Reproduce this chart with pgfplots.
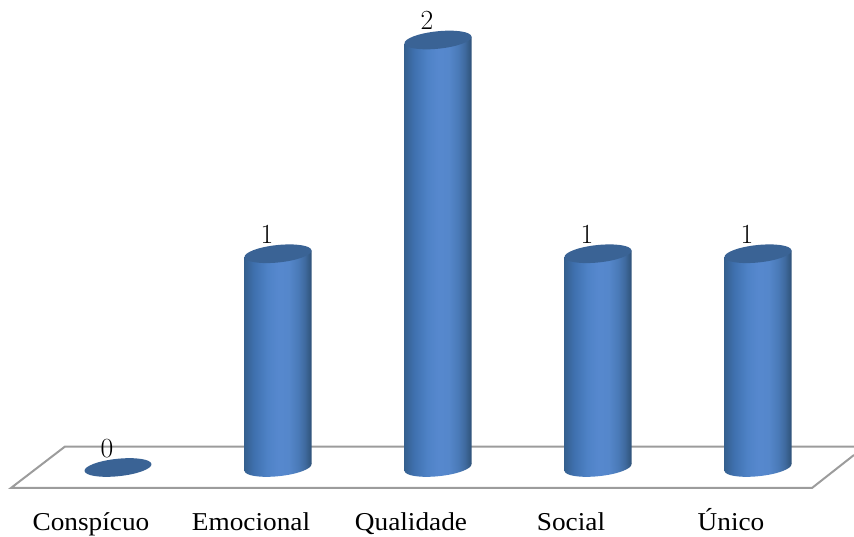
\documentclass[border=0pt]{standalone}
\usepackage{fontspec}
\setmainfont[FakeStretch=1.06]{Liberation Serif}
\usepackage{pgfplots}
\pgfplotsset{compat=1.18}

\definecolor{capblue}{HTML}{3A6395}
\definecolor{floorgray}{HTML}{9C9C9C}
\definecolor{shA}{HTML}{35608F}
\definecolor{shB}{HTML}{3F70AE}
\definecolor{shC}{HTML}{4E82C6}
\definecolor{shD}{HTML}{5688CE}
\definecolor{shE}{HTML}{5587CB}
\definecolor{shF}{HTML}{4A7AB8}
\definecolor{shG}{HTML}{3F6A9F}
\definecolor{shH}{HTML}{2F5278}

% Horizontal light falloff across a cylinder; the path maps onto 25bp..75bp
\pgfdeclarehorizontalshading{cyl}{100bp}{
  color(0bp)=(shA);
  color(25bp)=(shA);
  color(32bp)=(shB);
  color(42bp)=(shC);
  color(50bp)=(shD);
  color(58bp)=(shE);
  color(65bp)=(shF);
  color(70bp)=(shG);
  color(75bp)=(shH);
  color(100bp)=(shH)}

% Tilted ellipses for the end faces of the cylinders
\pgfdeclareplotmark{cylcap}{%
  \pgfpathellipse{\pgfpointorigin}{\pgfpoint{25.1pt}{2.6pt}}{\pgfpoint{-0.7pt}{6.5pt}}%
  \pgfsetfillcolor{capblue}\pgfusepathqfill}
\pgfdeclareplotmark{cylbase}{%
  \pgfpathellipse{\pgfpointorigin}{\pgfpoint{25.1pt}{2.6pt}}{\pgfpoint{-0.7pt}{6.5pt}}%
  \pgfshadepath{cyl}{0}\pgfusepath{discard}}

% body of a cylinder, sheared so that its ends follow the tilt of the faces
\pgfplotsset{cylbody/.style={ybar, bar width=50.25pt, bar shift=0pt, draw=none,
  shade, shading=cyl, /tikz/cm={1,0.1036,0,1,(0pt,{-0.1036*#1})}}}

\begin{document}
\begin{tikzpicture}
\path[use as bounding box] (0,0) rectangle (640.5pt,402pt);
\begin{axis}[
  scale only axis,
  width=640.5pt, height=402pt,
  xmin=-0.7375, xmax=4.6,
  ymin=-0.3205, ymax=2.1871,
  axis line style={draw=none},
  major tick length=0pt,
  ytick=\empty,
  xtick={0,1,2,3,4},
  xticklabels={Conspícuo,Emocional,Qualidade,Social,Único},
  xticklabel style={anchor=base, xshift=-20.25pt, yshift=4.5pt, font=\fontsize{19.3}{21}\selectfont},
  clip mode=individual,
]
% floor plane
\addplot[draw=floorgray, line width=1.5pt, line join=miter] coordinates {
  (4.6,0.0585) (4.3375,-0.0959) (-0.669,-0.0959) (-0.331,0.0982) (4.6,0.0982)};

% lower faces of the cylinders
\addplot[only marks, mark=cylbase] coordinates {(1,0) (2,0) (3,0) (4,0)};

% cylinder bodies
\addplot[cylbody=208.5pt] coordinates {(1,1)};
\addplot[cylbody=328.5pt] coordinates {(2,2)};
\addplot[cylbody=448.5pt] coordinates {(3,1)};
\addplot[cylbody=568.5pt] coordinates {(4,1)};

% upper faces and value labels
\addplot[only marks, mark=cylcap,
  nodes near coords,
  every node near coord/.style={anchor=base, xshift=-8.25pt, yshift=7.5pt,
    font=\fontsize{19.3}{21}\selectfont, text=black, inner sep=0pt},
] coordinates {(0,0) (1,1) (2,2) (3,1) (4,1)};
\end{axis}
\end{tikzpicture}
\end{document}
